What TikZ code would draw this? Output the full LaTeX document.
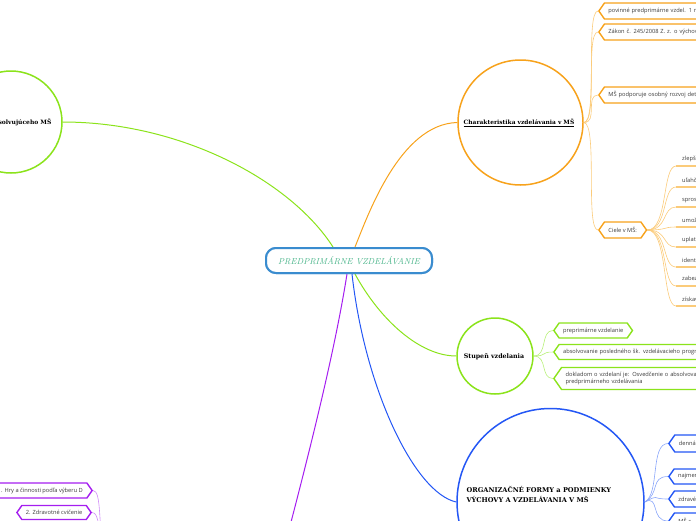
\documentclass[tikz,border=0pt]{standalone}
\usepackage{fontspec}
\newfontfamily\boxfont{Open Sans}
\newfontfamily\headfont{DejaVu Serif}
\usetikzlibrary{shapes.symbols}
\definecolor{corange}{HTML}{F7A21B}
\definecolor{corlight}{HTML}{FBCB7A}
\definecolor{cgreen}{HTML}{8BE31B}
\definecolor{cgrlight}{HTML}{B8F07A}
\definecolor{cblue}{HTML}{2457F5}
\definecolor{cbllight}{HTML}{8AA6FA}
\definecolor{cpurple}{HTML}{A51EF0}
\definecolor{cpulight}{HTML}{D08AF8}
\definecolor{cmain}{HTML}{3A8CCF}
\definecolor{cteal}{HTML}{45B387}
\definecolor{ctext}{HTML}{3C3C3C}
\begin{document}
\begin{tikzpicture}[x=1pt,y=-1pt,
  sub/.style={signal, signal to=west and east, signal pointer angle=110, draw=#1, line width=1.4pt, fill=white,
    minimum height=16pt, inner xsep=4pt, inner ysep=1pt, font=\boxfont\fontsize{5.7}{7}\selectfont, text=ctext, align=left},
  bigcirc/.style={circle, draw=#1, line width=1.5pt, fill=white, inner sep=0pt},
  head/.style={font=\headfont\bfseries\fontsize{6}{7}\selectfont, text=black, align=left},
  item/.style={font=\boxfont\fontsize{5.7}{7}\selectfont, text=ctext, anchor=west, inner sep=0pt},
  link/.style={draw=#1, line width=0.6pt},
  mainlink/.style={draw=#1, line width=1pt},
  title/.style={draw=cmain, line width=2pt, rounded corners=10pt, fill=white, minimum width=166pt, minimum height=25pt,
  font=\itshape\fontsize{8.6}{10}\selectfont, text=cteal}]
\useasboundingbox (0,0) rectangle (696,520);

% central node
\node[title] (cen) at (349,260.5) {PREDPRIMÁRNE VZDELÁVANIE};

% main circles
\node[bigcirc=cgreen, minimum size=102pt] (lc) at (11,122) {};
\node[head, anchor=east] (lct) at (55,122) {absolvujúceho MŠ};
\node[bigcirc=corange, minimum size=125pt] (oc) at (520.5,122.5) {};
\node[head, font=\headfont\bfseries\fontsize{5.9}{7}\selectfont] (oct) at (519,123) {\underline{Charakteristika vzdelávania v MŠ}};
\node[bigcirc=cgreen, minimum size=76pt] (gc) at (495,356) {};
\node[head, font=\headfont\bfseries\fontsize{6.3}{7}\selectfont] (gct) at (494,357) {Stupeň vzdelania};
\node[bigcirc=cblue, minimum size=187pt] (bc) at (550.5,502) {};
\node[head, anchor=west, font=\headfont\bfseries\fontsize{6.6}{10}\selectfont] (bct) at (463,494) {ORGANIZAČNÉ FORMY a PODMIENKY\\VÝCHOVY A VZDELÁVANIA V MŠ};

% main connectors
\path[mainlink=cgreen] ([xshift=-16pt]cen.north) .. controls (290,180) and (180,122) .. (lc.east);
\path[mainlink=corange] ([xshift=6pt]cen.north) .. controls (368,215) and (400,124) .. (oc.west);
\path[mainlink=cgreen] ([xshift=6pt]cen.south) .. controls (380,320) and (420,356) .. (gc.west);
\path[mainlink=cblue] ([xshift=3pt]cen.south) .. controls (365,390) and (415,493) .. (bc.west);
\coordinate (pend) at (285,545);
\path[mainlink=cpurple] ([xshift=-2pt]cen.south) .. controls (335,350) and (310,450) .. (pend);
\node[title] (cen2) at (349,260.5) {PREDPRIMÁRNE VZDELÁVANIE};

% orange children
\node[sub=corange, anchor=west, text width=140pt] (o1) at (598,11) {povinné predprimárne vzdel. 1 rok};
\node[sub=corange, anchor=west, text width=140pt] (o2) at (598,32) {Zákon č. 245/2008 Z. z. o výchove};
\node[sub=corange, anchor=west, text width=140pt] (o3) at (598,95) {MŠ podporuje osobný rozvoj detí};
\node[sub=corange, anchor=west] (o4) at (598,230) {Ciele v MŠ:};
\foreach \n in {o1,o2,o3,o4}
  \path[link=corlight] (oc.east) .. controls (598,123) and ([xshift=-13pt]\n.west) .. (\n.west);

% ciele items
\foreach \i/\y/\t in {1/166/zlepšovať,2/187/uľahčovať,3/207/sprostredkovať,4/227/umožňovať,5/247/uplatňovať,6/267/identifikovať,7/286/zabezpečovať,8/306/získavať}{
  \coordinate (u\i) at (676,\y);
  \node[item] (ct\i) at (682,\y-7) {\t};
  \path[draw=corlight, line width=1.2pt] (u\i) -- ++(30,0);
  \path[link=corlight] (o4.east) .. controls (668,230) and ([xshift=-14pt]u\i) .. (u\i);
}

% green children
\node[sub=cgreen, anchor=west, minimum height=15pt] (g1) at (553,330.5) {preprimárne vzdelanie};
\node[sub=cgreen, anchor=west, minimum height=15pt, text width=170pt] (g2) at (553,352) {absolvovanie posledného šk. vzdelávacieho programu};
\node[sub=cgreen, anchor=west, minimum height=22pt, text width=170pt] (g3) at (553,378.5) {dokladom o vzdelaní je: Osvedčenie o absolvovaní\\predprimárneho vzdelávania};
\foreach \n in {g1,g2,g3}
  \path[link=cgrlight] (gc.east) .. controls (548,356) and ([xshift=-13pt]\n.west) .. (\n.west);

% blue children
\node[sub=cblue, anchor=west, minimum height=17pt, text width=60pt] (b1) at (668,443.5) {denná};
\node[sub=cblue, anchor=west, minimum height=15pt, text width=60pt] (b2) at (668,476.5) {najmenej};
\node[sub=cblue, anchor=west, minimum height=16pt, text width=60pt] (b3) at (668,499) {zdravé};
\node[sub=cblue, anchor=west, minimum height=16pt, text width=60pt] (b4) at (668,521) {MŠ s};
\foreach \n in {b1,b2,b3,b4}
  \path[link=cbllight] (bc.east) .. controls (660,494) and ([xshift=-18pt]\n.west) .. (\n.west);

% purple children
\node[sub=cpurple, anchor=east, minimum height=15pt] (p1) at (93,490.5) {1. Hry a činnosti podľa výberu D};
\node[sub=cpurple, anchor=east, minimum height=14pt] (p2) at (92,512.5) {2. Zdravotné cvičenie};
\coordinate (pc) at (104,548);
\path[link=cpulight] (p1.east) .. controls (102,490) and (98,530) .. (pc);
\path[link=cpulight] (p2.east) .. controls (100,512) and (98,535) .. (pc);
\end{tikzpicture}
\end{document}
